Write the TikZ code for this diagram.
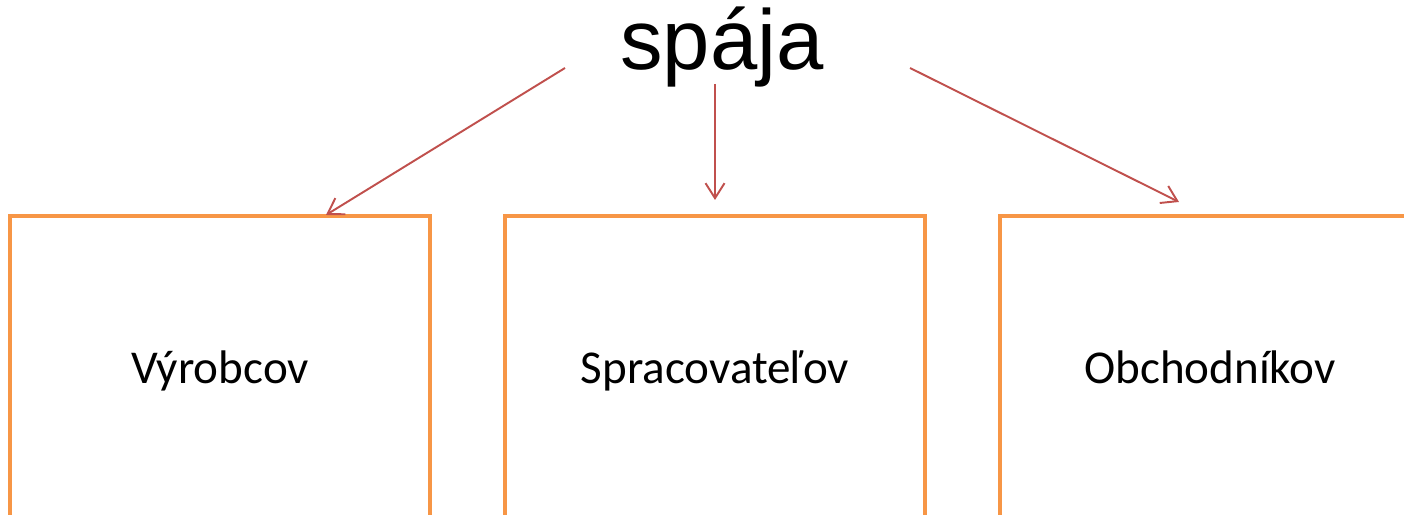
\documentclass[tikz,border=0pt]{standalone}
\usepackage{fontspec}
\setmainfont{Carlito}
\newfontfamily\titlefont{Liberation Sans}
\usetikzlibrary{arrows.meta,positioning}
\definecolor{orangebox}{HTML}{F79646}
\definecolor{rougefl}{HTML}{C0504D}
\tikzset{boite/.style={draw=orangebox,line width=1.3pt,minimum width=4.2cm,minimum height=3.08cm,text height=2.2ex,text depth=0.6ex,font=\fontsize{13.4}{16}\selectfont},
fleche/.style={draw=rougefl,line width=0.55pt,-{Straight Barb[length=1.5mm,width=1.9mm]}}}

\begin{document}
\begin{tikzpicture}%
\useasboundingbox (0,0) rectangle (14.04,5.15);%%
\clip (0,0) rectangle (14.04,5.15);%%
%%TITRE
\node[font=\titlefont\fontsize{24.2}{28}\selectfont] (spaja) at (7.22,4.68) {spája}; %%
%%BOITES
\node[boite] (vyrobcov) at (2.20,1.45) {Výrobcov}; %%
\node[boite] (spracov) at (7.15,1.45) {Spracovateľov}; %%
\node[boite] (obchod) at (12.10,1.45) {Obchodníkov}; %%
%%FLECHES
\coordinate (d1) at (5.65,4.47); \coordinate (a1) at (3.26,3.00);%%
\coordinate (d2) at (7.15,4.31); \coordinate (a2) at (7.15,3.15);%%
\coordinate (d3) at (9.10,4.47); \coordinate (a3) at (11.79,3.13);%%
\draw[fleche] (d1) -- (a1);%%
\draw[fleche] (d2) -- (a2);%%
\draw[fleche] (d3) -- (a3);%%
\end{tikzpicture}
\end{document}
